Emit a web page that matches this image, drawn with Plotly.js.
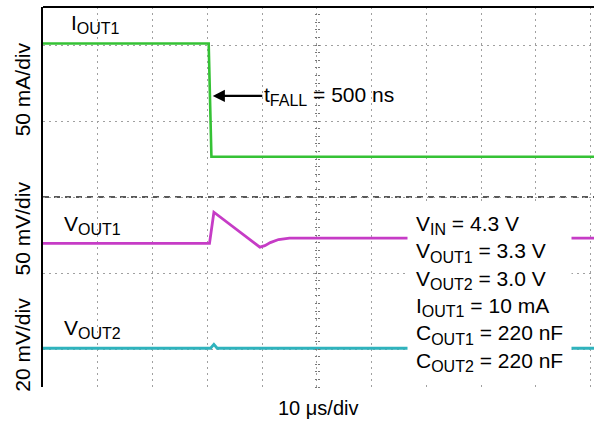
<!DOCTYPE html>
<html><head><meta charset="utf-8">
<script src="https://cdn.plot.ly/plotly-3.0.1.min.js"></script>
<style>html,body{margin:0;padding:0;background:#fff}#chart{width:594px;height:421px}</style>
</head><body><div id="chart"></div>
<script>
// Time in µs (10 µs/div); amplitudes in screen divisions (0 = centre line)
const ioutTime  = [0, 30.25, 30.75, 100.6];
const ioutDiv   = [2.02, 2.02, 0.53, 0.53];

const vout1Time = [0, 30.4, 31.2, 33, 35, 37, 39.6, 40.5, 41.5, 43, 45, 50, 100.6];
const vout1Div  = [-0.61, -0.61, -0.20, -0.30, -0.40, -0.52, -0.66, -0.64, -0.60, -0.56, -0.54, -0.54, -0.54];

const vout2Time = [0, 30.6, 31.2, 31.8, 100.6];
const vout2Div  = [-1.99, -1.99, -1.94, -1.99, -1.99];

const S = (s) => '<sub><span style="font-size:16px">' + s + '</span></sub>';
const traceLabels = ['I' + S('OUT1'), 'V' + S('OUT1'), 'V' + S('OUT2')];
const channelScales = ['50 mA/div', '50 mV/div', '20 mV/div'];
const timeScale = '10 μs/div';
const fallLabel = 't' + S('FALL') + ' = 500 ns';
const conditions = [
  'V' + S('IN') + ' = 4.3 V',
  'V' + S('OUT1') + ' = 3.3 V',
  'V' + S('OUT2') + ' = 3.0 V',
  'I' + S('OUT1') + ' = 10 mA',
  'C' + S('OUT1') + ' = 220 nF',
  'C' + S('OUT2') + ' = 220 nF'
];

const FONT = 'Liberation Sans, Arial, sans-serif';
const XMAX = 100.6;

const traces = [
  {x: ioutTime, y: ioutDiv, mode: 'lines', line: {color: '#35c235', width: 2.6}, hoverinfo: 'skip'},
  {x: vout1Time, y: vout1Div, mode: 'lines', line: {color: '#c63cc6', width: 2.8}, hoverinfo: 'skip'},
  {x: vout2Time, y: vout2Div, mode: 'lines', line: {color: '#2fb3bd', width: 2.8}, hoverinfo: 'skip'},
  {x: [], y: [], yaxis: 'y2', hoverinfo: 'skip'},
  {x: [], y: [], yaxis: 'y3', hoverinfo: 'skip'}
];

const centerAxis = (side) => ({
  overlaying: 'y', anchor: 'free', position: 50 / XMAX, side: side,
  range: [-2.5, 2.5], tick0: 0, dtick: 0.1, ticks: 'outside', ticklen: 2,
  tickcolor: '#777', tickwidth: 1, showticklabels: false, showgrid: false,
  zeroline: false, showline: false, fixedrange: true
});

const F = {family: FONT, size: 21, color: '#000'};

const annotations = [
  {xref: 'paper', yref: 'paper', x: 0.0472, y: 0.955, xanchor: 'left', yanchor: 'middle',
   text: traceLabels[0], showarrow: false, font: F},
  {xref: 'paper', yref: 'paper', x: 0.0345, y: 0.425, xanchor: 'left', yanchor: 'middle',
   text: traceLabels[1], showarrow: false, font: F},
  {xref: 'paper', yref: 'paper', x: 0.0345, y: 0.152, xanchor: 'left', yanchor: 'middle',
   text: traceLabels[2], showarrow: false, font: F},
  {xref: 'paper', yref: 'paper', x: -0.0372, y: 0.782, textangle: -90, xanchor: 'center', yanchor: 'middle',
   text: channelScales[0], showarrow: false, font: F},
  {xref: 'paper', yref: 'paper', x: -0.0372, y: 0.416, textangle: -90, xanchor: 'center', yanchor: 'middle',
   text: channelScales[1], showarrow: false, font: F},
  {xref: 'paper', yref: 'paper', x: -0.0372, y: 0.110, textangle: -90, xanchor: 'center', yanchor: 'middle',
   text: channelScales[2], showarrow: false, font: F},
  {xref: 'x', yref: 'y', x: 31.0, y: 1.33, ax: 116, ay: 0,
   text: fallLabel, showarrow: true, arrowhead: 2, arrowsize: 1.1, arrowwidth: 2.2, arrowcolor: '#000',
   font: F},
  {xref: 'paper', yref: 'paper', x: 0.6606, y: 0.247, xanchor: 'left', yanchor: 'middle', align: 'left',
   text: conditions.join('<br>'), showarrow: false, bgcolor: '#fff', borderpad: 8,
   font: F},
  {xref: 'paper', yref: 'paper', x: (318 - 43) / 551, y: -0.055, xanchor: 'center', yanchor: 'middle',
   text: timeScale, showarrow: false, font: {family: FONT, size: 20, color: '#000'}}
];

const layout = {
  width: 594, height: 421,
  margin: {l: 43, r: 0, t: 7, b: 34},
  paper_bgcolor: '#fff', plot_bgcolor: '#fff',
  showlegend: false,
  font: F,
  xaxis: {range: [0, XMAX], tick0: 0, dtick: 10, showticklabels: false, ticks: '',
          showgrid: true, gridcolor: '#a0a0a0', gridwidth: 1, griddash: '2px,4px',
          zeroline: false, showline: false, fixedrange: true},
  yaxis: {range: [-2.5, 2.5], tick0: 0, dtick: 1, showticklabels: false, ticks: '',
          showgrid: true, gridcolor: '#a0a0a0', gridwidth: 1, griddash: '2px,4px',
          zeroline: false, showline: true, linecolor: '#000', linewidth: 2, fixedrange: true},
  yaxis2: centerAxis('left'),
  yaxis3: centerAxis('right'),
  shapes: [
    {type: 'line', xref: 'paper', yref: 'y', x0: 0, x1: 1, y0: 0, y1: 0, layer: 'below',
     line: {color: '#222', width: 1.3, dash: '6px,5px'}},
    {type: 'line', xref: 'paper', yref: 'paper', x0: 0, x1: 1, y0: 1, y1: 1,
     line: {color: '#000', width: 2}}
  ],
  annotations: annotations
};

Plotly.newPlot('chart', traces, layout, {staticPlot: true, displayModeBar: false});
</script>
</body></html>
